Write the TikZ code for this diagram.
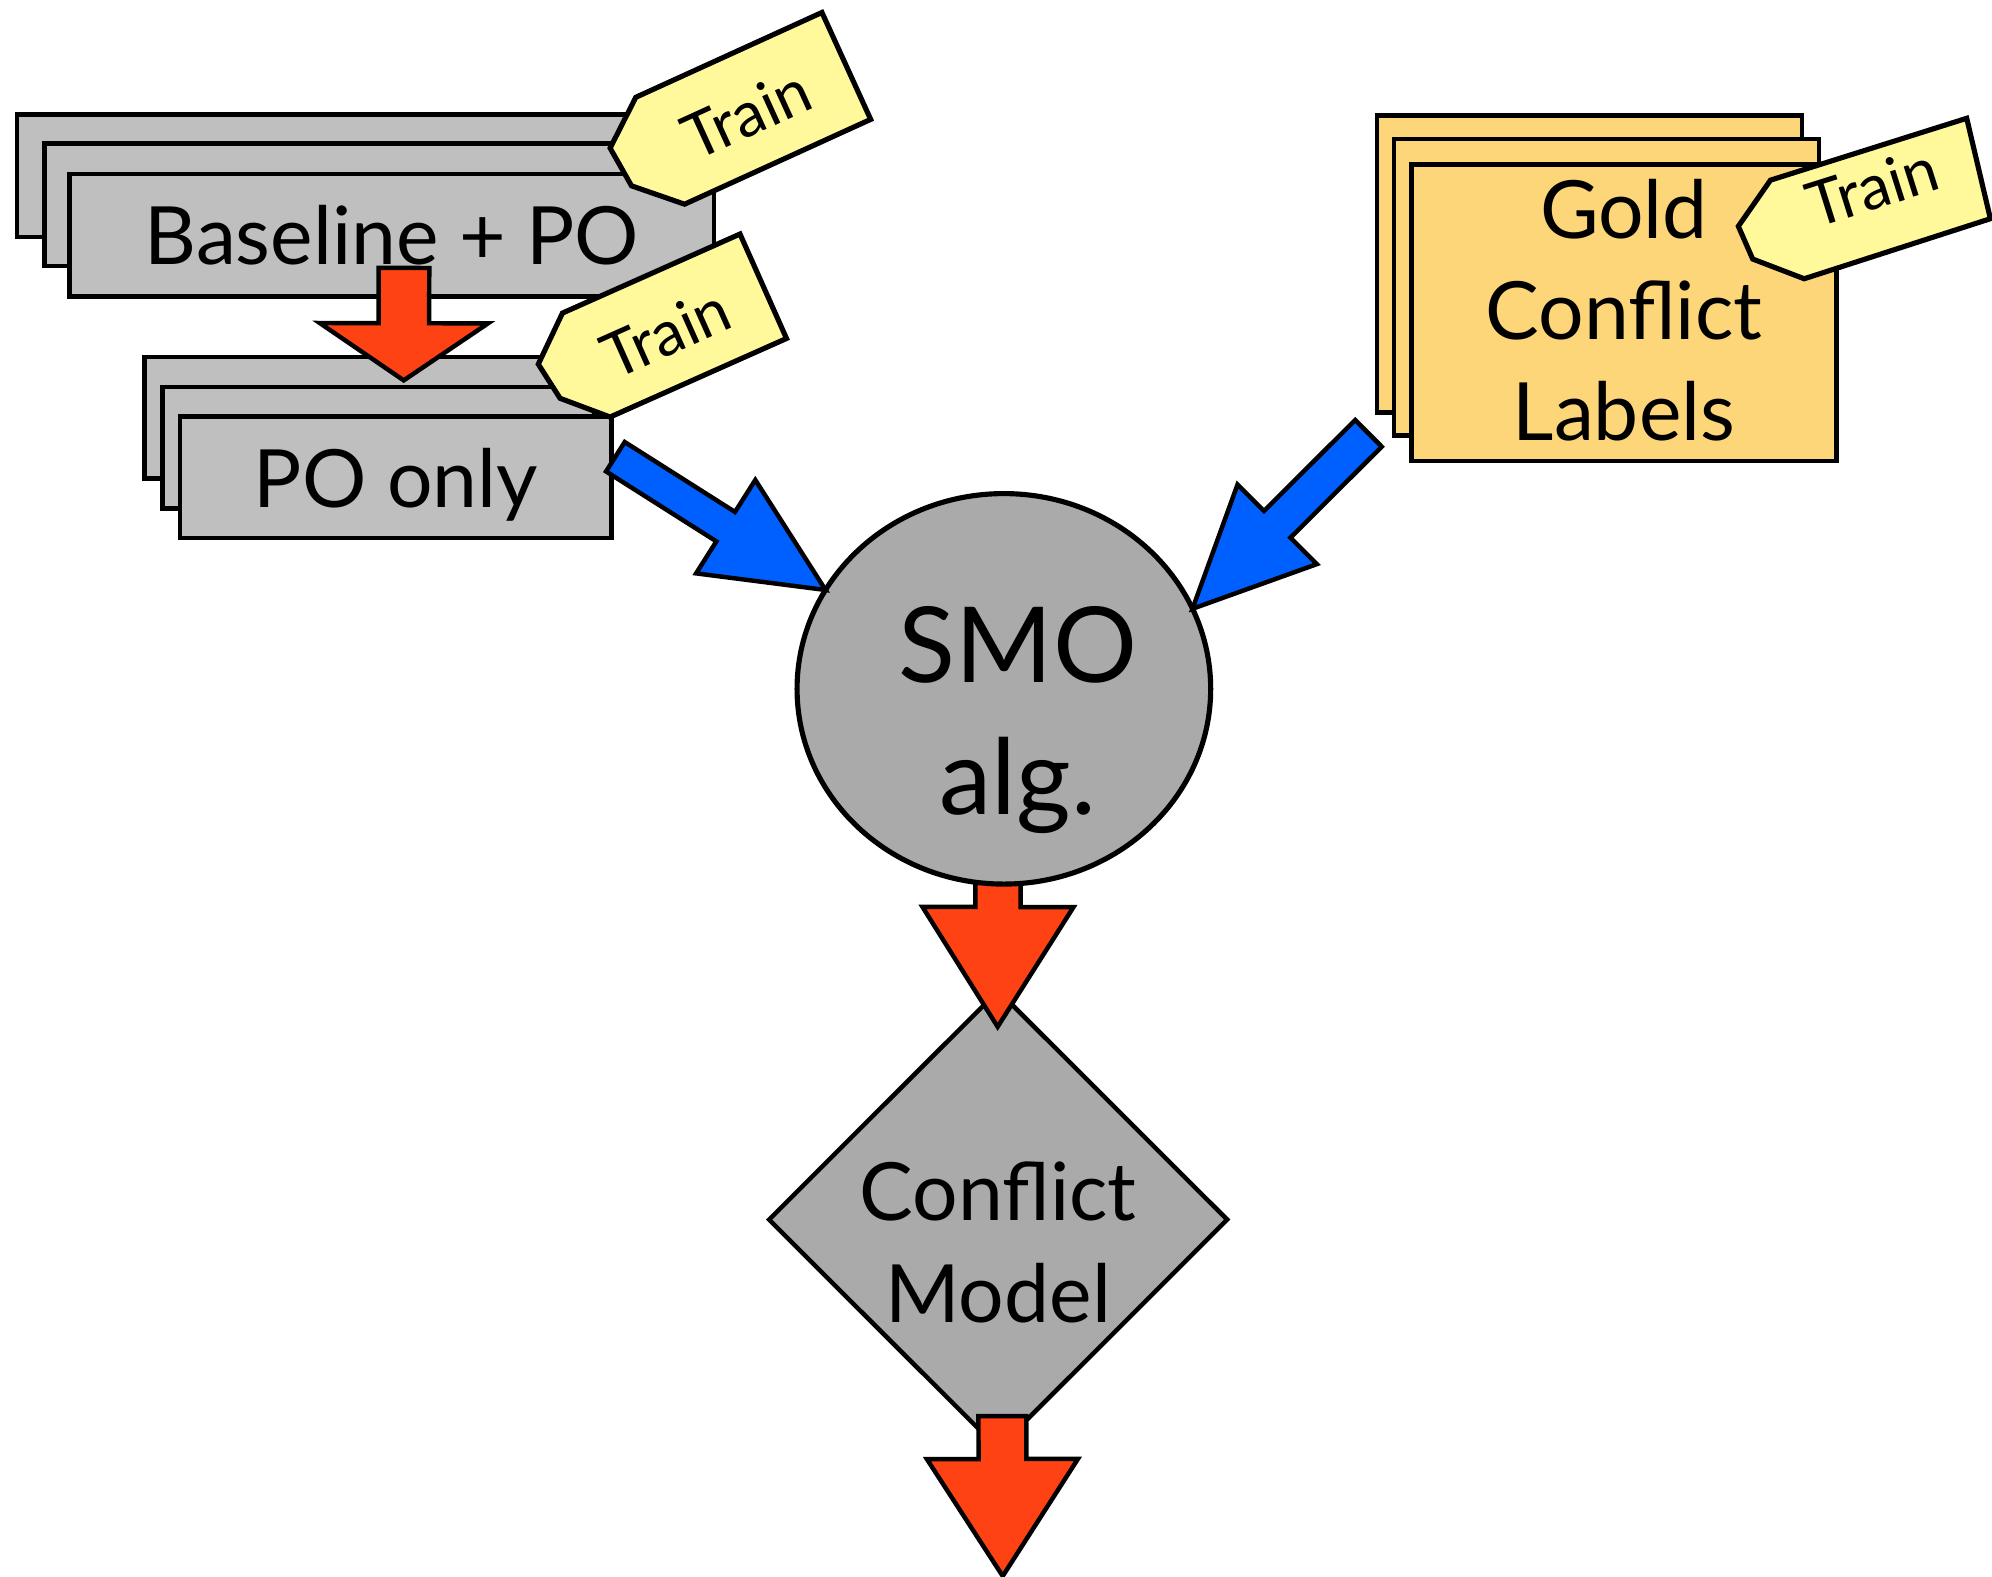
\documentclass[tikz,border=0pt]{standalone}
\usepackage{fontspec}
\setmainfont{Lato}
\usetikzlibrary{shapes.geometric,calc}
\definecolor{boxgray}{RGB}{191,191,191}
\definecolor{nodegray}{RGB}{170,170,170}
\definecolor{tagyellow}{RGB}{255,249,155}
\definecolor{goldfill}{RGB}{253,214,122}
\definecolor{arrowblue}{RGB}{0,96,255}
\definecolor{arrowred}{RGB}{255,66,20}
% #1 style, #2 start, #3 tip, #4 shaft half width, #5 head half width, #6 head length
\newcommand\blockarrow[6]{%
  \coordinate (ba-h) at ($(#3)!#6!(#2)$);
  \draw[#1] ($(#2)!#4!90:(#3)$) -- ($(ba-h)!#4!90:(#3)$) -- ($(ba-h)!#5!90:(#3)$) -- (#3)
    -- ($(ba-h)!#5!-90:(#3)$) -- ($(ba-h)!#4!-90:(#3)$) -- ($(#2)!#4!-90:(#3)$) -- cycle;
}
\begin{document}
\begin{tikzpicture}[x=0.01cm,y=-0.01cm,
  every node/.style={inner sep=0pt, outer sep=0pt},
  stackbox/.style={rectangle, draw=black, line width=1pt, fill=boxgray},
  goldbox/.style={rectangle, draw=black, line width=1pt, fill=goldfill},
  basesize/.style={minimum width=5.07cm, minimum height=0.965cm},
  posize/.style={minimum width=3.394cm, minimum height=0.956cm},
  goldsize/.style={minimum width=3.342cm, minimum height=2.335cm},
  maintext/.style={font=\fontsize{18}{22.7}\selectfont},
  tagbox/.style={draw=black, line width=1.15pt, fill=tagyellow, line join=miter},
  tagtext/.style={font=\fontsize{14}{16}\selectfont, anchor=base},
  redarrow/.style={draw=black, line width=1pt, fill=arrowred, line join=miter},
  bluearrow/.style={draw=black, line width=1pt, fill=arrowblue, line join=miter},
  smoshape/.style={ellipse, draw=black, line width=1.15pt, fill=nodegray,
    minimum width=3.254cm, minimum height=3.072cm, align=center,
    font=\fontsize{23.5}{29.6}\selectfont, text height=1.976cm, text depth=0pt},
  modelshape/.style={diamond, draw=black, line width=1pt, fill=nodegray,
    minimum width=3.604cm, minimum height=3.6cm, align=center, maintext,
    text height=1.614cm, text depth=0pt, inner xsep=-0.6cm}
]
\useasboundingbox (0,0) rectangle (1568,1241);

% Baseline + PO stack
\node[stackbox, basesize] (baseback) at (267.1,138.25) {};
\node[stackbox, basesize] (basemid) at (288.5,161.25) {};
\node[stackbox, basesize, maintext, text depth=0pt] (basefront) at (308.5,185.25) {Baseline + PO};

% Train tag 1
\begin{scope}[shift={(647,9.8)}, rotate=24.5]
  \draw[tagbox] (0,0) -- (-161,0) -- (-196,28) -- (-193,62) -- (-161,92.5) -- (0,92.5) -- cycle;
  \node[tagtext, rotate=24.5] (tagone) at (-87,65.7) {Train};
\end{scope}

% PO only stack
\node[stackbox, posize] (poback) at (283.6,328.8) {};
\node[stackbox, posize] (pomid) at (297.6,352.3) {};
\node[stackbox, posize, maintext, text depth=0pt] (pofront) at (311.6,375.8) {PO only};

% red arrow Baseline -> PO only
\coordinate (r1s) at (318,210.9);
\coordinate (r1e) at (317.8,299.4);
\blockarrow{redarrow}{r1s}{r1e}{0.199cm}{0.662cm}{0.45cm}

% Train tag 2
\begin{scope}[shift={(582.5,184.2)}, rotate=24]
  \draw[tagbox] (0,0) -- (-153,0) -- (-186.7,29) -- (-182,60.5) -- (-152,90) -- (0,90) -- cycle;
  \node[tagtext, rotate=24] (tagtwo) at (-85,65) {Train};
\end{scope}

% Gold conflict labels stack
\node[goldbox, goldsize] (goldback) at (1251.2,207.75) {};
\node[goldbox, goldsize] (goldmid) at (1264.6,226.15) {};
\node[goldbox, goldsize, maintext, align=center, text height=2.017cm, text depth=0pt] (goldfront) at (1278.3,246.15) {Gold\\Conflict\\Labels};

% Train tag 3
\begin{scope}[shift={(1548.1,93.1)}, rotate=17.5]
  \draw[tagbox] (0,0) -- (-162,0) -- (-197,27) -- (-194,55) -- (-160,82) -- (-6,81) -- cycle;
  \node[tagtext, rotate=17.5] (tagthree) at (-87,47) {Train};
\end{scope}

% Conflict model diamond
\node[modelshape] (model) at (785.7,960) {Conflict\\Model};

% red arrow SMO -> model
\coordinate (r2s) at (785.6,680);
\coordinate (r2e) at (785.3,808.2);
\blockarrow{redarrow}{r2s}{r2e}{0.178cm}{0.594cm}{0.942cm}

% SMO algorithm
\node[smoshape] (smo) at (790.2,542.2) {\hspace*{0.22cm}SMO\\\hspace*{0.22cm}alg.};

% red arrow out of model
\coordinate (r3s) at (789,1114.7);
\coordinate (r3e) at (789.3,1240.6);
\blockarrow{redarrow}{r3s}{r3e}{0.188cm}{0.594cm}{0.921cm}

% blue arrows into SMO
\coordinate (b1s) at (484.4,359.5);
\coordinate (b1e) at (smo.151);
\blockarrow{bluearrow}{b1s}{b1e}{0.137cm}{0.435cm}{0.93cm}
\coordinate (b2s) at (1077.2,341.1);
\coordinate (b2e) at (smo.23);
\blockarrow{bluearrow}{b2s}{b2e}{0.148cm}{0.442cm}{0.941cm}
\end{tikzpicture}
\end{document}
